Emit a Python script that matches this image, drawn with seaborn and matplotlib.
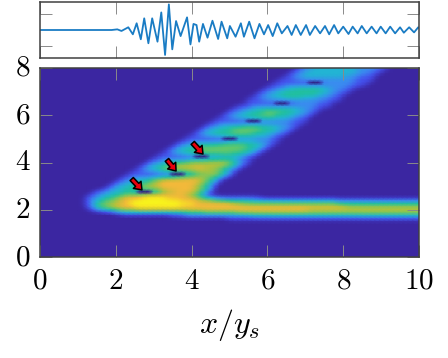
import matplotlib
matplotlib.use("Agg")
import matplotlib.pyplot as plt
from matplotlib.colors import LinearSegmentedColormap
import numpy as np
import seaborn as sns

# top trace
trace_x = [0, 1.89, 2.04, 2.15, 2.33, 2.45, 2.55, 2.66, 2.75, 2.86, 2.96, 3.10, 3.20, 3.30, 3.40, 3.49,
           3.59, 3.71, 3.88, 3.97, 4.05, 4.13, 4.20, 4.30, 4.42, 4.55, 4.70, 4.79, 4.94, 5.01, 5.16, 5.30,
           5.38, 5.52, 5.66, 5.79, 5.91, 6.02, 6.14, 6.26, 6.38, 6.53, 6.64, 6.75, 6.88, 7.02, 7.12, 7.26,
           7.39, 7.52, 7.63, 7.76, 7.87, 8.00, 8.14, 8.25, 8.38, 8.49, 8.62, 8.75, 8.88, 8.99, 9.12, 9.24,
           9.37, 9.50, 9.60, 9.74, 9.87, 9.98, 10]
trace_y = [0, 0, 0.04, -0.06, 0.17, -0.27, 0.42, -0.58, 0.73, -0.83, 0.73, -0.73, 1.10, -1.56, 1.60, -1.21,
           0.56, -0.38, 0.79, -0.90, 0.38, 0.31, -0.73, 0.38, -0.48, 0.58, -0.56, 0.52, -0.52, 0.25, -0.42, 0.42,
           -0.42, 0.52, -0.52, 0.38, -0.27, 0.31, -0.38, 0.42, -0.21, 0.25, -0.31, 0.31, -0.31, 0.31, -0.31, 0.25,
           -0.21, 0.25, -0.27, 0.31, -0.21, 0.21, -0.25, 0.21, -0.21, 0.25, -0.21, 0.21, -0.21, 0.21, -0.21, 0.21,
           -0.21, 0.17, -0.17, 0.17, -0.15, 0.17, 0.15]

# heatmap cells, 8 columns and 8 rows per unit, digit = colour level (1 is background)
row_y = [8.0, 7.875, 7.75, 7.625, 7.5, 7.375, 7.25, 7.125, 7.0, 6.875, 6.75, 6.625, 6.5, 6.375, 6.25, 6.125,
         6.0, 5.875, 5.75, 5.625, 5.5, 5.375, 5.25, 5.125, 5.0, 4.875, 4.75, 4.625, 4.5, 4.375, 4.25, 4.125,
         4.0, 3.875, 3.75, 3.625, 3.5, 3.375, 3.25, 3.125, 3.0, 2.875, 2.75, 2.625,
         2.5, 2.375, 2.25, 2.125, 2.0, 1.875, 1.75, 1.625]
row_start = [55, 54, 53, 52, 51, 50, 49, 48, 47, 46, 45, 44, 44, 42, 41, 40,
             39, 38, 37, 36, 35, 34, 33, 32, 31, 30, 29, 28, 27, 26, 25, 24,
             23, 22, 21, 20, 19, 18, 17, 16, 15, 14, 12, 11,
             10, 10, 10, 10, 11, 16, 28, 40]
row_levels = [
    "2334444444443333322",
    "2334444444444433322",
    "2334444444444433322",
    "2233444444444333222",
    "22233333333333332222",
    "22222222223333333222",
    "22233333333333333222",
    "2233445555554433322",
    "2334455555555443322",
    "2334455555555443322",
    "2233444555544433322",
    "22233333333333333222",
    "222222222233333222",
    "22233333333333333222",
    "2233445555555443322",
    "2334455566655544332",
    "2334455566655544332",
    "2233444555554443322",
    "22222222223333333222",
    "22333333333333333222",
    "23344555666655544332",
    "23445556666665554332",
    "23445555666655544332",
    "22334445555555444322",
    "22222222233333333322",
    "223333333344444433322",
    "233445555666666555432",
    "234455666666666655432",
    "234455666666666655432",
    "223445555666666555432",
    "222222222233334444322",
    "223333334444555554322",
    "2334455667777777765432",
    "2344566777777777776532",
    "2344566777778877765432",
    "2233445566677777766432",
    "2222222222233356677654",
    "2233333445566777776542",
    "2334455778888888876542",
    "2334455667888888887653",
    "2344556677888888887653",
    "23445566777788888887654",
    "2334445533333467788887642",
    "2334455667778888888876542",
    "233455678" + "888999998888" + "887654" + "322" + "2" * 7,
    "234566778" + "899999999998" + "888777666555554" + "4" * 17 + "3" * 18,
    "235667788" + "999999999999" + "99888888887766" + "6" * 18 + "5" * 18,
    "235667788" + "899999999998" + "8" * 34 + "7" * 16,
    "23456677" + "778888888888" + "8" * 26 + "7" * 24,
    "234444444444444" + "55556666666777" + "7" * 36,
    "222" + "3" * 14 + "4" * 36,
    "2" * 41,
]
level_colors = ["#2a1b78", "#3b26a1", "#4450ee", "#3a8cf0", "#22b4d4", "#20c0a0",
                "#62c86c", "#b0c23c", "#f2b83a", "#f8f31c"]

# dark notches above the lobes
notch_x = [2.72, 3.6, 4.3, 4.96, 5.65, 6.4, 7.26]
notch_y = [2.75, 3.5, 4.25, 5.0, 5.75, 6.5, 7.375]

# arrows, tail and tip in axis units
arrow_tail_x = [2.42, 3.35, 4.03]
arrow_tail_y = [3.3, 4.11, 4.83]
arrow_tip_x = [2.69, 3.59, 4.30]
arrow_tip_y = [2.84, 3.64, 4.36]

x_ticks = [0, 2, 4, 6, 8, 10]
y_ticks = [0, 2, 4, 6, 8]

plt.rcParams["mathtext.fontset"] = "cm"

grid = np.ones((65, 81))
for y, start, levels in zip(row_y, row_start, row_levels):
    row = int(round((8 - y) * 8))
    vals = [int(c) for c in levels][: 81 - start]
    grid[row, start:start + len(vals)] = vals

# soften the typed steps a little, the reference is a smooth field
kernel = np.array([1, 2, 1]) / 4
for axis in (0, 1):
    padded = np.pad(grid, [(1, 1) if i == axis else (0, 0) for i in (0, 1)], mode="edge")
    grid = np.apply_along_axis(lambda v: np.convolve(v, kernel, mode="valid"), axis, padded)

for nx, ny in zip(notch_x, notch_y):
    row, col = int(round((8 - ny) * 8)), int(round(nx * 8))
    grid[row, col - 1:col + 2] = [0.8, 0.1, 0.8]

fig = plt.figure(figsize=(4.48, 3.58), dpi=100)
ax_top = fig.add_axes([40 / 448, 1 - 58 / 358, 379 / 448, 56 / 358])
ax = fig.add_axes([40 / 448, 1 - 257 / 358, 379 / 448, 189 / 358])

sns.lineplot(x=trace_x, y=trace_y, ax=ax_top, color="#1a7cc4", linewidth=1.3)
ax_top.set_xlim(0, 10)
ax_top.set_ylim(-1.75, 1.75)
ax_top.set_xticks(x_ticks)
ax_top.set_yticks([-1, 1])
ax_top.set_xticklabels([])
ax_top.set_yticklabels([])

cmap = LinearSegmentedColormap.from_list("scalo", level_colors)
sns.heatmap(grid, ax=ax, cmap=cmap, vmin=0, vmax=9, cbar=False, shading="gouraud")
ax.set_xlim(0, 80)
ax.set_ylim(64, 0)
ax.set_xticks([t * 8 for t in x_ticks])
ax.set_xticklabels([f"${t}$" for t in x_ticks], rotation=0, fontsize=21)
ax.set_yticks([(8 - t) * 8 for t in y_ticks])
ax.set_yticklabels([f"${t}$" for t in y_ticks], rotation=0, fontsize=21)
ax.set_xlabel("$x/y_s$", fontsize=23, labelpad=9)

for a in (ax_top, ax):
    for side in a.spines:
        a.spines[side].set_visible(True)
        a.spines[side].set_color("#404040")
        a.spines[side].set_linewidth(1.1)
    a.tick_params(axis="both", which="both", direction="in", length=8.5, width=0.7, color="#8a8a8a",
                  top=True, right=True, bottom=True, left=True, pad=7)

for tx, ty, hx, hy in zip(arrow_tail_x, arrow_tail_y, arrow_tip_x, arrow_tip_y):
    ax.annotate("", xy=(hx * 8, (8 - hy) * 8), xytext=(tx * 8, (8 - ty) * 8),
                arrowprops=dict(arrowstyle="simple,head_length=0.5,head_width=0.75,tail_width=0.32",
                                fc="#e8000c", ec="black", lw=1.1, shrinkA=0, shrinkB=0, mutation_scale=10))

fig.savefig("out.png", dpi=100)
